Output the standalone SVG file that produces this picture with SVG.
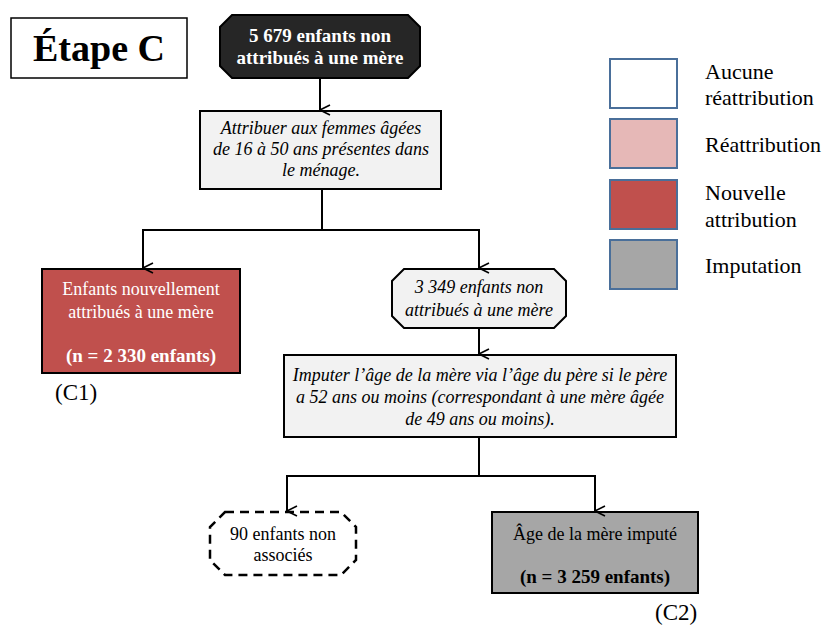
<svg xmlns="http://www.w3.org/2000/svg" width="825" height="625" viewBox="0 0 825 625">
<defs>
<style>
text{font-family:"Liberation Serif","DejaVu Serif",serif;font-size:18px;fill:#000;text-anchor:middle}
.it{font-style:italic}
.b{font-weight:bold;font-size:19px}
.w{fill:#fff}
.lg{font-size:22px;text-anchor:start}
.node{stroke:#000;stroke-width:2}
.leg{stroke:#4a6f9a;stroke-width:2}
.con{fill:none;stroke:#000;stroke-width:2}
</style>
<marker id="v" viewBox="0 0 12 12" refX="6" refY="11" markerWidth="12" markerHeight="12" markerUnits="userSpaceOnUse" orient="auto-start-reverse">
<path d="M1,1 L6,11 L11,1" fill="none" stroke="#000" stroke-width="1.6"/>
</marker>
</defs>
<rect width="825" height="625" fill="#fff"/>
<g id="title">
<rect x="11" y="18" width="176" height="60" fill="#fff" stroke="#000" stroke-width="1.5"/>
<text x="99" y="61" style="font-size:38px;font-weight:bold">Étape C</text>
</g>
<g id="start">
<polygon class="node" points="232,15 408,15 420,27 420,66 408,78 232,78 220,66 220,27" fill="#262626"/>
<text x="320" y="42" class="b w">5 679 enfants non</text>
<text x="320" y="64" class="b w">attribués à une mère</text>
</g>
<g id="attribuer">
<rect class="node" x="200" y="111" width="241" height="78" fill="#f2f2f2"/>
<text x="321" y="134" class="it">Attribuer aux femmes âgées</text>
<text x="321" y="155" class="it">de 16 à 50 ans présentes dans</text>
<text x="321" y="176" class="it">le ménage.</text>
</g>
<g id="c1">
<rect class="node" x="42" y="269" width="198" height="104" fill="#c0504d"/>
<text x="141" y="295" class="w">Enfants nouvellement</text>
<text x="141" y="318" class="w">attribués à une mère</text>
<text x="141" y="362" class="b w">(n = 2 330 enfants)</text>
<text x="55" y="400" style="font-size:23px;text-anchor:start">(C1)</text>
</g>
<g id="restants">
<polygon class="node" points="404,269 554,269 566,281 566,316 554,328 404,328 392,316 392,281" fill="#f2f2f2"/>
<text x="479" y="293" class="it">3 349 enfants non</text>
<text x="479" y="316" class="it">attribués à une mère</text>
</g>
<g id="imputer">
<rect class="node" x="284" y="355" width="392" height="82" fill="#f2f2f2"/>
<text x="480" y="381" class="it">Imputer l’âge de la mère via l’âge du père si le père</text>
<text x="480" y="403" class="it">a 52 ans ou moins (correspondant à une mère âgée</text>
<text x="480" y="425" class="it">de 49 ans ou moins).</text>
</g>
<g id="nonassocies">
<polygon points="225,512 341,512 356,527 356,560 341,575 225,575 210,560 210,527" fill="#fff" stroke="#000" stroke-width="2.5" stroke-dasharray="9,6"/>
<text x="283" y="540">90 enfants non</text>
<text x="283" y="561">associés</text>
</g>
<g id="c2">
<rect class="node" x="492" y="512" width="206" height="81" fill="#a6a6a6"/>
<text x="595" y="540">Âge de la mère imputé</text>
<text x="595" y="583" class="b">(n = 3 259 enfants)</text>
<text x="655" y="620" style="font-size:23px;text-anchor:start">(C2)</text>
</g>
<g id="legend">
<rect class="leg" x="610" y="59" width="67" height="49" fill="#fff"/>
<rect class="leg" x="610" y="119" width="67" height="49" fill="#e6b8b7"/>
<rect class="leg" x="610" y="180" width="67" height="49" fill="#c0504d"/>
<rect class="leg" x="610" y="240" width="67" height="49" fill="#a6a6a6"/>
<text x="705" y="79" class="lg">Aucune</text>
<text x="705" y="105" class="lg">réattribution</text>
<text x="705" y="152" class="lg">Réattribution</text>
<text x="705" y="200" class="lg">Nouvelle</text>
<text x="705" y="227" class="lg">attribution</text>
<text x="705" y="273" class="lg">Imputation</text>
</g>
<g id="connectors">
<line class="con" x1="320" y1="78" x2="320" y2="110" marker-end="url(#v)"/>
<polyline class="con" points="322,189 322,230"/>
<polyline class="con" points="322,230 143,230 143,268" marker-end="url(#v)"/>
<polyline class="con" points="322,230 479,230 479,268" marker-end="url(#v)"/>
<line class="con" x1="479" y1="328" x2="479" y2="354" marker-end="url(#v)"/>
<polyline class="con" points="479,437 479,476"/>
<polyline class="con" points="479,476 287,476 287,511" marker-end="url(#v)"/>
<polyline class="con" points="479,476 595,476 595,511" marker-end="url(#v)"/>
</g>
</svg>
